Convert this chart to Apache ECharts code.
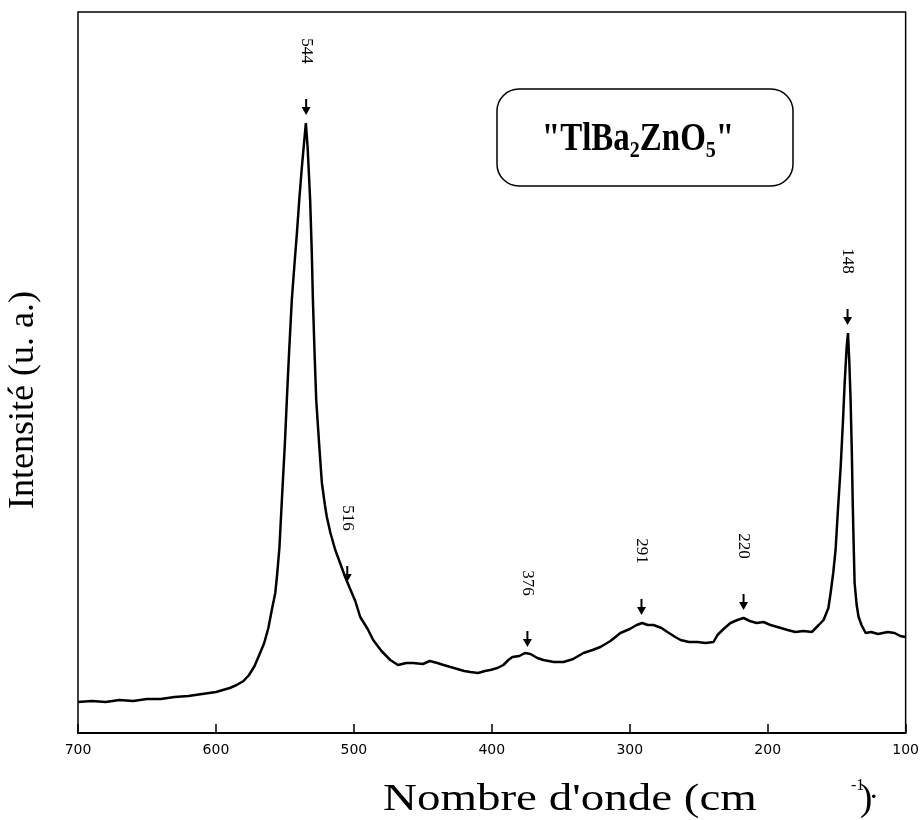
<!DOCTYPE html>
<html>
<head>
<meta charset="utf-8">
<script src="https://cdn.jsdelivr.net/npm/echarts@6/dist/echarts.min.js"></script>
<style>html,body{margin:0;padding:0;background:#fff}#c{width:922px;height:820px}</style>
</head>
<body>
<div id="c"></div>
<script>
// Raman shift (cm-1)
var wavenumbers = [700,690,680,670,660,650,640,630,620,610,600,595,590,585,580,576,572,568,565,562,559.5,557,555.8,554,552.2,550,548.6,547,545,543,541.3,539.5,537.7,536,534.8,533.5,531.7,530.5,529.7,528.5,527.3,525,523.2,521,519.6,517,513.5,510,506.3,503,499,495.4,490,486,480,473.6,468,462,457,450,445,439.5,435,430,425,420,415.6,410,405,401.1,396,391.6,388,385.1,380,376,372,367,362.6,355,348,341,333.6,327,321.3,314,306.8,300,295,291,287,282.8,277,272.7,267,263.2,257,250.9,245,239.3,236.4,232,227,222,217.5,213,208,203,198,193,188,185.6,180,174,168,163,159.5,156,154.4,152.5,150.8,149,147.1,145.5,144.2,142.8,141.8,140.8,139.9,139,138.4,137.7,137,135.5,134.1,132,129,125,120,113,108,104,100];
// Intensity (arbitrary units)
var intensities = [31,32,31,33,32,34,34,36,37,39,41,43,45,48,52,58,67,80,90,105,123,140,156,185,233,290,333,380,433,470,500,535,566,592,610,585,533,480,433,380,333,285,250,228,216,200,183,170,156,145,132,116,104,93,82,73,68,70,70,69,72,70,68,66,64,62,61,60,62,63,65,68,73,76,77,80,79,75,73,71,71,74,80,83,86,92,100,104,108,110,108,108,105,101,96,93,91,91,90,91,98,104,110,113,115,112,110,111,108,106,104,103,101,102,101,108,113,125,140,160,183,225,266,310,350,385,400,370,333,280,233,190,150,128,116,108,100,101,99,101,100,97,96];
// Peak annotations: label, position of arrow on axis, arrow tip intensity
var peakLabels = ['544','516','376','291','220','148'];
var peakX = [534.6,504.8,374.2,291.5,217.5,142.1];
var peakY = [618,151,86,118,123,408];
var xTicks = [700,600,500,400,300,200,100];

var chart = echarts.init(document.getElementById('c'), null, {renderer:'canvas'});
var lineData = wavenumbers.map(function(w,i){return [w,intensities[i]];});
var peakData = peakLabels.map(function(l,i){return [peakX[i],peakY[i],l];});

var serif = '"Liberation Serif", "Times New Roman", serif';
var sans = '"DejaVu Sans", sans-serif';

chart.setOption({
  animation:false,
  backgroundColor:'#fff',
  grid:{left:78,right:15,top:12,bottom:87,show:true,borderColor:'#000',borderWidth:1.5,containLabel:false},
  xAxis:{type:'value',min:xTicks[xTicks.length-1],max:xTicks[0],interval:100,inverse:true,
    axisLine:{show:true,lineStyle:{color:'#000',width:2}},
    axisTick:{show:true,inside:true,length:9,lineStyle:{color:'#000',width:1.5}},
    axisLabel:{show:true,color:'#000',fontSize:14,fontFamily:sans,margin:10,showMinLabel:true,showMaxLabel:true},
    splitLine:{show:false}},
  yAxis:{type:'value',min:0,max:721,axisLine:{show:false},axisTick:{show:false},axisLabel:{show:false},splitLine:{show:false}},
  series:[
    {type:'line',data:lineData,showSymbol:false,symbol:'none',lineStyle:{color:'#000',width:2.5},clip:true,z:3},
    {type:'custom',data:peakData,z:4,clip:false,
     renderItem:function(params,api){
       var p = api.coord([api.value(0),api.value(1)]);
       var x=p[0], y=p[1];
       return {type:'group',children:[
         {type:'line',shape:{x1:x,y1:y-16,x2:x,y2:y-5},style:{stroke:'#000',lineWidth:2}},
         {type:'polygon',shape:{points:[[x-4.5,y-8],[x+4.5,y-8],[x,y]]},style:{fill:'#000'}},
         {type:'text',x:x,y:y-64,rotation:-Math.PI/2,
          style:{text:api.value(2),fontSize:17,fontFamily:serif,fill:'#000',align:'center',verticalAlign:'middle'}}
       ]};
     }}
  ],
  graphic:[
    {type:'rect',shape:{x:497,y:89,width:296,height:97,r:22},style:{fill:'#fff',stroke:'#000',lineWidth:1.5},z:10},
    {type:'text',x:638,y:140,scaleY:1.2,z:11,
     style:{text:'{a|"TlBa}{s|2}{a|ZnO}{s|5}{a|"}',align:'center',verticalAlign:'middle',
       rich:{a:{fontSize:33,fontWeight:'bold',fontFamily:serif,fill:'#000'},
             s:{fontSize:20,fontWeight:'bold',fontFamily:serif,fill:'#000',padding:[18,0,0,0]}}}},
    {type:'text',x:24,y:400,rotation:Math.PI/2,z:11,
     style:{text:'Intensité (u. a.)',fontSize:36,fontFamily:serif,fill:'#000',align:'center',verticalAlign:'middle'}},
    {type:'text',x:383,y:800,scaleX:1.27,z:11,style:{text:"Nombre d'onde (cm",fontSize:37,fontFamily:serif,fill:'#000',align:'left',verticalAlign:'middle'}},
    {type:'text',x:851,y:786,z:11,style:{text:'-1',fontSize:16,fontFamily:serif,fill:'#000',align:'left',verticalAlign:'middle'}},
    {type:'text',x:860,y:800,z:11,style:{text:')',fontSize:37,fontFamily:serif,fill:'#000',align:'left',verticalAlign:'middle'}},
    {type:'text',x:870,y:790,z:11,style:{text:'.',fontSize:30,fontFamily:serif,fill:'#000',align:'left',verticalAlign:'middle'}}
  ]
});
</script>
</body>
</html>
